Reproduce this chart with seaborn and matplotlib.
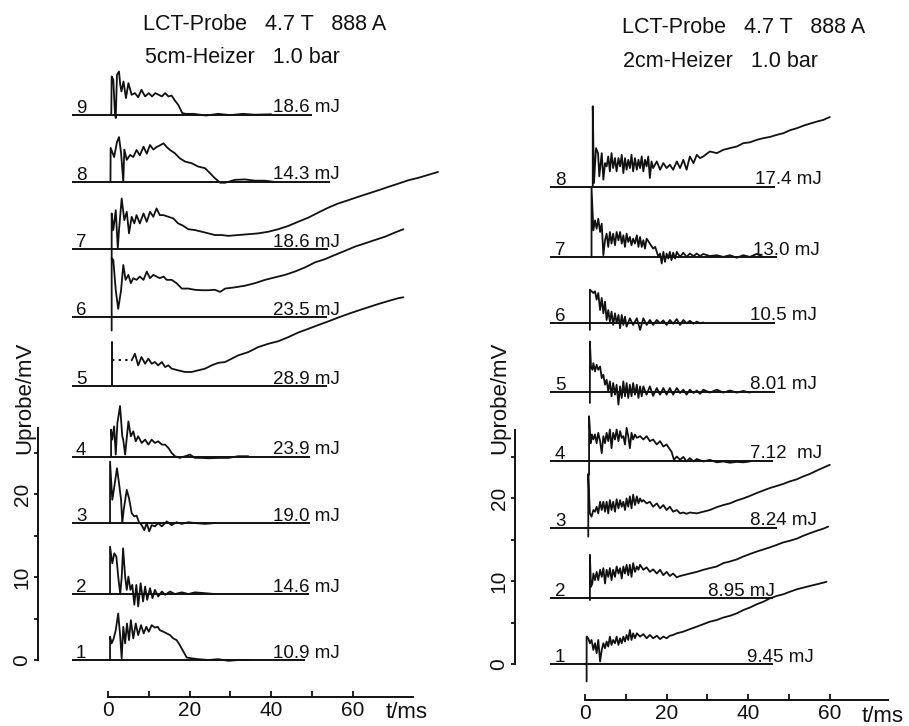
import matplotlib
matplotlib.use("Agg")
import matplotlib.pyplot as plt
import numpy as np
import seaborn as sns

# ---------------------------------------------------------------- data
# time axis in ms, probe voltage in mV above each trace's own zero line

# 5 cm heater, traces 1..9
L1_t = [0.5, 0.5, 0.9, 1.4, 1.9, 2.5, 3.0, 3.35, 3.75, 4.2, 4.65, 5.15, 5.6, 6.2, 6.8, 7.4, 8.1, 8.75, 9.4, 10.0,
        10.7, 11.5, 12.2, 12.7, 13.6, 14.4, 15.2, 16.0, 16.8, 17.6, 18.5, 19.3, 20.5, 22.1, 24.6, 27.0, 29.5, 31.9, 34.4]
L1_v = [0, 2.8, 2.0, 2.6, 3.6, 5.6, 2.8, 0.2, 4.0, 2.0, 4.4, 2.4, 4.8, 2.6, 4.4, 3.0, 4.2, 3.2, 4.0, 3.4,
        4.2, 3.9, 4.0, 3.6, 3.4, 3.2, 3.0, 2.6, 2.4, 1.8, 1.0, 0.3, 0.2, 0.1, 0.0, 0.1, -0.1, 0.0, 0.0]

L2_t = [0.5, 0.5, 1.05, 1.55, 2.05, 2.5, 3.0, 3.35, 3.7, 4.2, 4.6, 5.0, 5.5, 5.95, 6.45, 6.95, 7.4, 8.0, 8.6, 9.1,
        9.6, 10.3, 10.9, 11.5, 12.3, 13.2, 14.0, 15.2, 16.4, 18.1, 19.7, 21.3, 23.8, 26.2]
L2_v = [0, 5.7, 3.7, 4.9, 4.5, 2.1, 0.0, 2.0, 5.5, 2.1, 0.5, 2.1, 0.5, 1.1, -1.3, 1.1, -1.5, 1.3, -0.9, 0.9,
        -0.7, 0.7, -0.5, 0.5, -0.3, 0.3, -0.1, 0.3, 0.0, 0.2, 0.0, 0.2, 0.1, 0.0]

L3_t = [0.5, 0.5, 1.05, 1.55, 2.2, 2.7, 3.2, 3.5, 3.85, 4.6, 5.15, 5.8, 6.45, 7.0, 7.6, 8.25, 8.9, 9.5, 10.1, 10.7,
        11.5, 12.3, 13.2, 14.4, 15.6, 16.8, 18.1, 19.7, 21.3, 23.8, 26.2]
L3_v = [0, 7.4, 2.8, 4.4, 6.6, 4.8, 2.8, 0.0, 1.6, 4.0, 3.0, 1.2, 0.8, 0.9, 0.1, -0.25, -0.85, 0.0, -1.0, -0.25,
        -0.4, 0.0, -0.4, 0.2, -0.25, 0.1, -0.1, 0.1, 0.0, -0.1, 0.0]

L4_t = [0.75, 0.75, 1.05, 1.5, 1.9, 2.3, 2.95, 3.5, 3.75, 4.2, 5.0, 5.6, 6.2, 6.8, 7.4, 8.25, 9.1, 9.9, 10.7, 11.5,
        12.3, 13.2, 14.0, 14.8, 15.6, 16.4, 17.6, 18.9, 20.1, 21.3, 23.0, 24.6, 27.0, 29.5, 31.9, 34.4]
L4_v = [0, 3.25, 2.05, 3.65, 0.25, 4.05, 6.1, 2.45, 2.0, 0.25, 4.25, 2.45, 3.05, 1.85, 2.45, 1.65, 2.05, 1.45, 2.05, 1.65,
        1.85, 1.45, 1.45, 1.05, 0.45, 0.05, -0.15, 0.05, 0.25, -0.15, -0.15, -0.2, -0.15, -0.15, 0.05, 0.05]

L5_t = [0.9, 0.9, 0.9, 5.8, 6.6, 7.4, 8.2, 9.1, 9.9, 10.7, 11.5, 12.3, 13.2, 14.0, 14.8, 15.6, 17.2, 18.9, 20.5, 22.1,
        23.8, 25.4, 27.0, 28.7, 30.3, 31.9, 34.4, 36.8, 39.3, 41.7, 44.2, 46.6, 49.1, 51.5, 54.0, 56.4, 58.9, 61.3,
        63.8, 66.3, 68.7, 71.2, 72.4]
L5_v = [0, 5.3, 3.1, 3.1, 3.9, 2.5, 3.5, 2.7, 3.3, 2.7, 2.9, 2.5, 2.9, 2.3, 2.5, 2.1, 1.9, 1.7, 1.7, 1.9,
        2.1, 2.5, 2.8, 2.9, 3.3, 3.7, 4.1, 4.7, 5.1, 5.4, 5.9, 6.45, 6.9, 7.35, 7.8, 8.25, 8.7, 9.1,
        9.5, 9.9, 10.25, 10.6, 10.7]

L6_t = [0.9, 0.9, 1.3, 1.9, 2.5, 3.2, 3.75, 4.3, 5.0, 5.6, 6.2, 7.0, 7.8, 8.7, 9.5, 10.3, 11.1, 11.9, 12.7, 13.6,
        14.4, 15.6, 16.8, 18.1, 19.7, 21.3, 23.0, 24.6, 26.2, 27.5, 28.7, 31.1, 33.6, 36.0, 38.5, 40.9, 43.4, 45.8,
        48.3, 50.7, 53.2, 55.6, 58.1, 60.5, 63.0, 65.4, 67.9, 70.3, 72.4]
L6_v = [-1.6, 7.1, 6.9, 3.25, 1.0, 3.25, 6.3, 4.5, 5.1, 4.1, 4.7, 4.5, 4.9, 4.5, 5.5, 4.7, 5.1, 4.9, 4.7, 4.9,
        4.5, 4.5, 4.1, 3.45, 3.45, 3.3, 3.25, 3.25, 3.3, 3.05, 3.45, 3.6, 3.8, 4.1, 4.5, 4.8, 5.1, 5.5,
        6.0, 6.6, 7.0, 7.5, 8.0, 8.5, 8.9, 9.3, 9.7, 10.2, 10.6]

L7_t = [0.9, 0.9, 1.3, 1.9, 2.4, 2.7, 3.35, 4.0, 4.6, 5.15, 5.8, 6.45, 7.0, 7.8, 8.7, 9.5, 10.3, 11.1, 11.9, 12.7,
        13.6, 14.8, 16.0, 17.2, 18.5, 19.7, 21.3, 23.0, 24.6, 26.2, 27.9, 29.5, 31.9, 34.4, 36.8, 39.3, 41.7, 44.2,
        46.6, 49.1, 51.5, 54.0, 56.4, 58.9, 61.3, 63.8, 66.3, 68.7, 71.2, 73.6, 76.1, 80.9]
L7_v = [-1.2, 4.3, 2.3, 4.7, 0.1, 2.3, 6.1, 3.5, 4.5, 1.9, 3.9, 3.1, 4.1, 3.1, 4.3, 3.3, 4.5, 3.9, 4.9, 4.1,
        4.1, 3.9, 3.7, 3.1, 2.8, 2.4, 2.3, 2.1, 1.9, 1.7, 1.7, 1.6, 1.7, 1.8, 1.9, 2.1, 2.4, 2.8,
        3.3, 3.8, 4.4, 5.0, 5.5, 5.9, 6.3, 6.7, 7.1, 7.5, 7.9, 8.3, 8.6, 9.3]

L8_t = [0.6, 0.65, 1.5, 2.2, 2.7, 3.2, 3.75, 4.0, 4.6, 5.4, 6.2, 7.0, 7.8, 8.7, 9.5, 10.3, 11.1, 11.9, 12.7, 13.6,
        14.4, 15.2, 16.4, 17.6, 18.9, 20.5, 22.1, 23.8, 25.0, 26.2, 27.5, 28.7, 31.1, 33.6, 36.0, 38.5, 40.9]
L8_v = [0, 4.1, 3.0, 4.8, 5.4, 3.5, 0.0, 3.9, 2.65, 3.25, 3.0, 3.85, 3.2, 4.25, 3.4, 4.45, 3.9, 4.2, 4.4, 4.65,
        4.2, 3.85, 3.45, 2.85, 2.45, 2.25, 1.85, 1.65, 1.05, 0.45, -0.1, -0.1, 0.25, 0.3, 0.15, 0.15, 0.0]

L9_t = [0.8, 0.9, 1.3, 1.7, 1.9, 2.2, 2.7, 3.0, 3.3, 3.8, 4.4, 5.0, 5.8, 6.6, 7.4, 8.2, 9.1, 10.0, 10.8, 11.6,
        12.4, 13.2, 14.0, 14.8, 15.6, 16.4, 17.2, 18.2, 19.0, 21.0, 24.0, 27.0, 30.0, 33.0, 36.0, 40.0]
L9_v = [0, 4.6, 4.2, 0.2, -0.4, 4.8, 5.2, 3.6, 2.8, 4.0, 2.0, 3.8, 2.4, 2.6, 2.1, 3.0, 2.2, 2.6, 2.2, 2.6,
        2.4, 2.2, 2.6, 2.2, 2.3, 1.7, 1.2, 0.2, 0.1, 0.1, -0.1, 0.1, -0.05, 0.1, 0.0, 0.05]

# 2 cm heater, traces 1..8
R1_t = [0.4, 0.4, 0.8, 1.2, 1.6, 2.05, 2.45, 2.85, 3.25, 3.7, 4.1, 4.5, 4.9, 5.3, 5.7, 6.1, 6.5, 6.9, 7.35, 7.75,
        8.2, 8.6, 9.0, 9.4, 9.8, 10.2, 10.6, 11.0, 11.4, 11.8, 12.25, 12.7, 13.5, 14.3, 15.1, 15.9, 16.7, 17.6,
        18.4, 19.2, 20.0, 20.8, 21.6, 22.5, 24.1, 25.7, 27.4, 29.0, 30.6, 32.3, 33.9, 35.5, 37.2, 38.8, 40.4,
        42.1, 43.7, 45.3, 47.0, 48.6, 50.2, 51.9, 53.5, 55.1, 56.8, 59.2]
R1_v = [-2.1, 3.3, 3.1, 2.5, 2.9, 1.7, 2.5, 1.3, 2.9, 0.3, 1.7, 2.5, 1.9, 2.7, 2.1, 3.3, 2.3, 2.9, 2.5, 3.3,
        2.3, 3.1, 2.5, 3.3, 2.7, 3.5, 2.9, 4.1, 2.9, 3.7, 3.1, 3.7, 3.3, 3.6, 3.1, 3.5, 3.1, 3.4,
        3.0, 3.3, 3.1, 3.4, 3.5, 3.7, 3.9, 4.2, 4.5, 4.8, 5.1, 5.3, 5.6, 5.8, 6.1, 6.5, 6.8,
        7.2, 7.5, 7.9, 8.2, 8.4, 8.7, 9.0, 9.2, 9.4, 9.6, 9.9]

R2_t = [1.2, 1.2, 1.47, 1.8, 2.05, 2.45, 2.85, 3.25, 3.7, 4.1, 4.5, 4.9, 5.3, 5.7, 6.1, 6.5, 6.9, 7.35, 7.75, 8.2,
        8.6, 9.0, 9.4, 9.8, 10.2, 10.6, 11.0, 11.4, 11.8, 12.25, 12.7, 13.1, 13.5, 14.3, 15.1, 15.9, 16.7, 17.6,
        18.4, 19.2, 20.0, 20.8, 21.6, 22.5, 23.3, 24.1, 25.7, 27.4, 29.0, 30.6, 32.3, 33.9, 35.5, 37.2, 38.8,
        40.4, 42.1, 43.7, 45.3, 47.0, 48.6, 50.2, 51.9, 53.5, 55.1, 56.8, 58.4, 59.6]
R2_v = [-0.25, 5.2, 1.35, 1.75, 2.95, 2.15, 3.15, 2.15, 3.4, 2.55, 3.6, 1.75, 3.4, 2.55, 3.6, 2.15, 3.4, 2.55, 3.8, 2.95,
        3.6, 2.35, 3.8, 2.95, 4.0, 2.75, 4.0, 2.55, 4.2, 3.15, 3.8, 3.4, 4.0, 3.4, 3.7, 3.15, 3.45, 2.95,
        3.4, 2.75, 3.15, 2.65, 2.95, 2.5, 2.65, 2.75, 2.95, 3.15, 3.4, 3.6, 3.8, 4.2, 4.4, 4.65, 5.0,
        5.3, 5.6, 5.85, 6.1, 6.4, 6.7, 6.9, 7.15, 7.5, 7.8, 8.1, 8.35, 8.6]

R3_t = [0.8, 0.8, 1.2, 1.6, 2.05, 2.45, 2.85, 3.25, 3.7, 4.1, 4.5, 4.9, 5.3, 5.7, 6.1, 6.5, 6.9, 7.35, 7.75, 8.2,
        8.6, 9.0, 9.4, 9.8, 10.2, 10.6, 11.0, 11.4, 11.8, 12.25, 12.7, 13.1, 13.5, 13.9, 14.3, 15.1, 15.9, 16.7,
        17.6, 18.4, 19.2, 20.0, 20.8, 21.6, 22.5, 23.3, 24.1, 24.9, 25.7, 27.4, 29.0, 30.6, 32.3, 33.9, 35.5,
        37.2, 38.8, 40.4, 42.1, 43.7, 45.3, 47.0, 48.6, 50.2, 51.9, 53.5, 55.1, 56.8, 60.0]
R3_v = [-1.05, 6.5, 1.75, 1.35, 2.15, 1.95, 2.55, 1.75, 3.15, 2.15, 3.15, 1.95, 3.15, 1.75, 3.35, 2.15, 3.15, 1.95, 3.45, 2.35,
        3.35, 2.55, 3.15, 2.15, 3.55, 2.55, 3.8, 2.35, 4.0, 2.75, 3.8, 2.95, 3.55, 3.15, 3.35, 2.95, 3.15, 2.55,
        2.95, 2.35, 2.75, 2.15, 2.55, 1.95, 2.15, 1.75, 1.85, 1.7, 1.85, 1.75, 1.95, 2.15, 2.5, 2.75, 2.95,
        3.3, 3.55, 3.85, 4.2, 4.5, 4.8, 5.05, 5.3, 5.6, 5.85, 6.2, 6.5, 6.9, 7.6]

R4_t = [1.0, 1.0, 1.4, 1.7, 2.05, 2.45, 2.85, 3.25, 3.7, 4.1, 4.5, 4.9, 5.3, 5.7, 6.1, 6.5, 6.9, 7.35, 7.75, 8.2,
        8.6, 9.0, 9.4, 9.8, 10.2, 10.6, 11.0, 11.4, 11.8, 12.25, 12.7, 13.5, 14.3, 15.1, 15.9, 16.7, 17.6, 18.4,
        19.2, 20.0, 20.8, 21.2, 21.8, 22.5, 23.3, 24.1, 24.9, 25.7, 26.6, 27.4, 29.0, 30.6, 32.3, 33.9, 35.5,
        37.2, 38.8, 40.4]
R4_v = [-1.7, 5.35, 2.1, 3.15, 2.55, 3.15, 2.1, 3.35, 2.35, 0.9, 2.95, 2.1, 3.35, 2.35, 3.75, 1.5, 3.35, 2.55, 3.75, 2.35,
        3.55, 2.75, 2.95, 1.95, 3.95, 2.95, 1.5, 3.35, 2.55, 3.15, 2.75, 2.95, 2.55, 2.95, 2.35, 2.55, 1.95, 2.35,
        1.7, 1.95, 1.35, 1.1, 0.1, 0.5, 0.1, 0.45, -0.1, 0.3, -0.1, 0.2, -0.1, 0.1, -0.2, -0.1, -0.25,
        -0.15, -0.2, -0.1]

R5_t = [1.2, 1.2, 1.47, 1.8, 2.05, 2.45, 2.85, 3.25, 3.7, 4.1, 4.5, 4.9, 5.3, 5.7, 6.1, 6.5, 6.9, 7.35, 7.75, 8.2,
        8.6, 9.0, 9.4, 9.8, 10.2, 10.6, 11.0, 11.4, 11.8, 12.25, 12.7, 13.1, 13.5, 13.9, 14.3, 15.1, 15.9, 16.7,
        17.6, 18.4, 19.2, 20.0, 20.8, 21.6, 22.5, 23.3, 24.1, 24.9, 25.7, 26.6, 27.4, 28.2, 29.0, 30.6, 32.3,
        33.9, 35.5, 37.2, 38.8, 40.4]
R5_v = [-1.35, 6.05, 3.05, 2.65, 3.45, 2.45, 3.25, 2.65, 3.05, 1.65, 2.05, 0.85, 1.45, 0.05, 1.25, -0.55, 1.05, -0.35, 0.85, -1.55,
        0.65, -0.75, 1.25, -0.55, 1.05, -0.75, 0.85, -0.55, 1.05, -0.35, 0.85, -0.75, 0.65, -0.55, 0.65, -0.35, 0.65, -0.5,
        0.45, -0.35, 0.45, -0.35, 0.45, -0.35, 0.45, -0.15, 0.25, -0.35, 0.25, -0.15, 0.15, -0.25, 0.25, -0.1, 0.25,
        -0.1, 0.15, -0.1, 0.1, -0.1]

R6_t = [1.2, 1.2, 2.05, 2.45, 2.85, 3.25, 3.7, 4.1, 4.5, 4.9, 5.3, 5.7, 6.1, 6.5, 6.9, 7.35, 7.75, 8.2, 8.6, 9.0,
        9.4, 9.8, 10.2, 11.0, 11.8, 12.7, 13.5, 14.3, 15.1, 15.9, 16.7, 17.6, 18.4, 19.2, 20.0, 20.8, 21.6, 22.5,
        23.3, 24.1, 24.9, 25.7, 26.6, 27.4, 28.2, 29.0]
R6_v = [-0.85, 4.0, 3.6, 3.8, 2.8, 3.6, 1.55, 3.0, 1.15, 2.55, 0.35, 1.55, 0.15, 1.35, -0.25, 1.15, -0.05, 0.95, -0.65, 0.95,
        -0.25, 0.75, -0.45, 0.55, -0.25, 0.55, -0.85, 0.55, -0.25, 0.35, -0.25, 0.35, -0.05, 0.3, -0.25, 0.35, -0.1, 0.45,
        -0.25, 0.35, -0.05, 0.25, -0.1, 0.15, -0.05, 0.05]

R7_t = [1.6, 1.6, 2.05, 2.45, 2.85, 3.25, 3.7, 4.1, 4.5, 4.9, 5.3, 5.7, 6.1, 6.5, 6.9, 7.35, 7.75, 8.2, 8.6, 9.0,
        9.4, 9.8, 10.2, 10.6, 11.0, 11.4, 11.8, 12.25, 12.7, 13.1, 13.5, 13.9, 14.3, 14.7, 15.1, 15.9, 16.7, 17.2,
        17.6, 18.0, 18.4, 18.8, 19.2, 19.6, 20.0, 20.4, 20.8, 21.2, 21.6, 22.1, 22.5, 23.3, 24.1, 24.9, 25.7,
        26.6, 27.4, 28.2, 29.0, 30.6, 32.3, 33.9, 35.5, 37.2, 38.8, 40.4, 42.1, 43.7]
R7_v = [0, 8.4, 3.25, 4.45, 3.45, 4.65, 3.05, 4.05, 0.25, 2.05, 2.85, 1.25, 3.05, 1.65, 2.85, 1.45, 3.05, 2.05, 3.05, 1.65,
        2.65, 1.25, 2.85, 1.85, 2.45, 1.45, 2.25, 1.65, 2.65, 1.25, 2.45, 1.25, 2.05, 1.05, 2.25, 1.65, 1.05, 1.25,
        0.65, 0.05, 0.45, -0.75, 0.65, -0.55, 0.45, -0.15, 0.65, -0.35, 0.55, -0.15, 0.65, 0.05, 0.55, 0.05, 0.45,
        0.15, 0.45, 0.15, 0.4, 0.15, 0.25, 0.05, 0.25, -0.05, 0.25, 0.05, 0.4, 0.05]

R8_t = [1.9, 1.9, 2.2, 2.7, 3.2, 3.5, 4.1, 4.5, 4.9, 5.3, 5.7, 6.1, 6.5, 6.9, 7.35, 7.75, 8.2, 8.6, 9.0, 9.4,
        9.8, 10.2, 10.6, 11.0, 11.4, 11.8, 12.25, 12.7, 13.1, 13.5, 13.9, 14.3, 14.7, 15.1, 15.5, 15.9, 16.3, 16.7,
        17.6, 18.4, 19.2, 20.0, 20.8, 21.6, 22.5, 23.3, 24.1, 24.9, 25.7, 26.6, 27.4, 28.2, 29.0, 30.6, 32.3,
        33.9, 35.5, 37.2, 38.8, 40.4, 42.1, 43.7, 45.3, 47.0, 48.6, 50.2, 51.9, 53.5, 55.1, 56.8, 58.4, 60.0]
R8_v = [0, 9.7, 0.45, 4.65, 4.05, 1.25, 4.05, 0.85, 2.85, 2.45, 3.65, 1.85, 4.05, 2.25, 3.45, 1.85, 3.45, 2.45, 3.85, 1.65,
        3.45, 2.05, 3.25, 2.25, 3.85, 1.85, 3.45, 2.05, 3.25, 2.25, 3.65, 1.85, 3.25, 2.45, 3.65, 1.05, 3.05, 2.25,
        3.05, 2.05, 2.85, 2.25, 2.65, 2.05, 3.05, 2.25, 3.25, 2.05, 3.65, 2.85, 3.85, 3.45, 3.65, 4.25, 4.05,
        4.45, 4.65, 4.85, 5.25, 5.35, 5.65, 5.85, 6.0, 6.25, 6.45, 6.8, 7.05, 7.35, 7.6, 7.85, 8.05, 8.4]

LEFT_T = [L1_t, L2_t, L3_t, L4_t, L5_t, L6_t, L7_t, L8_t, L9_t]
LEFT_V = [L1_v, L2_v, L3_v, L4_v, L5_v, L6_v, L7_v, L8_v, L9_v]
RIGHT_T = [R1_t, R2_t, R3_t, R4_t, R5_t, R6_t, R7_t, R8_t]
RIGHT_V = [R1_v, R2_v, R3_v, R4_v, R5_v, R6_v, R7_v, R8_v]

LEFT_NUMBERS = ["1", "2", "3", "4", "5", "6", "7", "8", "9"]
LEFT_ENERGY = ["10.9 mJ", "14.6 mJ", "19.0 mJ", "23.9 mJ", "28.9 mJ", "23.5 mJ", "18.6 mJ", "14.3 mJ", "18.6 mJ"]
RIGHT_NUMBERS = ["1", "2", "3", "4", "5", "6", "7", "8"]
RIGHT_ENERGY = ["9.45 mJ", "8.95 mJ", "8.24 mJ", "7.12  mJ", "8.01 mJ", "10.5 mJ", "13.0 mJ", "17.4 mJ"]

LEFT_TITLE = ["LCT-Probe   4.7 T   888 A", "5cm-Heizer   1.0 bar"]
RIGHT_TITLE = ["LCT-Probe   4.7 T   888 A", "2cm-Heizer   1.0 bar"]
X_TICKS = [0, 20, 40, 60]
X_MINOR = [10, 30, 50]
Y_TICKS = [0, 10, 20]
Y_MINOR = [5, 15, 25]

# ---------------------------------------------------------------- layout
# vertical stacking of the traces (mV) and extent of each zero line (ms)
LEFT_OFFSET = [0, 7.95, 16.5, 24.5, 33.0, 41.3, 49.5, 57.6, 65.7]
RIGHT_OFFSET = [0, 7.95, 16.4, 24.5, 32.8, 41.1, 49.0, 57.5]
LEFT_ZERO_END = [48.3, 49.3, 49.5, 49.5, 53.6, 53.6, 54.0, 54.4, 50.0]
RIGHT_ZERO_END = [46.0, 46.0, 47.0, 46.0, 46.5, 46.6, 47.0, 46.6]
LEFT_LABEL_X = [40.4] * 9
RIGHT_LABEL_X = [39.6, 30.2, 40.4, 40.4, 40.4, 40.4, 41.2, 41.7]

W, H = 909, 726
PX_MS, PX_MV = 4.08, 8.3
INK = "#111111"

sns.set_theme(style="ticks", rc={"axes.facecolor": "white", "figure.facecolor": "white"})
plt.rcParams["font.family"] = ["Liberation Sans", "DejaVu Sans"]

fig = plt.figure(figsize=(W / 100, H / 100), dpi=100)


def make_axes(t0_px, v0_py, xmin, xmax):
    left = (t0_px + xmin * PX_MS) / W
    width = (xmax - xmin) * PX_MS / W
    ax = fig.add_axes([left, 0, width, 1])
    ax.set_xlim(xmin, xmax)
    ax.set_ylim(-(H - v0_py) / PX_MV, v0_py / PX_MV)
    ax.patch.set_alpha(0)
    return ax


def draw_panel(ax, ts, vs, offsets, zero_start, zero_end, numbers, energies, label_x,
               num_x, xaxis_v, xaxis_end, yaxis_t, yaxis_top, dotted_start=None):
    for i, (t, v, off) in enumerate(zip(ts, vs, offsets)):
        t = np.asarray(t, float)
        y = np.asarray(v, float) + off
        ax.hlines(off, zero_start, zero_end[i], color=INK, lw=1.4)
        if dotted_start == i:
            # this trace starts with a dotted stretch
            sns.lineplot(x=t[:2], y=y[:2], ax=ax, sort=False, estimator=None, color=INK, lw=1.4)
            sns.lineplot(x=t[2:4], y=y[2:4], ax=ax, sort=False, estimator=None, color=INK, lw=1.4,
                         linestyle=(0, (1.2, 2.2)))
            sns.lineplot(x=t[3:], y=y[3:], ax=ax, sort=False, estimator=None, color=INK, lw=1.3)
        else:
            sns.lineplot(x=t, y=y, ax=ax, sort=False, estimator=None, color=INK, lw=1.3)
        ax.text(num_x, off + 0.25, numbers[i], ha="center", va="baseline", fontsize=13.5, color=INK)
        ax.text(label_x[i], off + 0.3, energies[i], ha="left", va="baseline", fontsize=13.5, color=INK)

    for side in ("top", "right"):
        ax.spines[side].set_visible(False)
    ax.spines["left"].set_position(("data", yaxis_t))
    ax.spines["left"].set_bounds(0, yaxis_top)
    ax.spines["bottom"].set_position(("data", xaxis_v))
    ax.spines["bottom"].set_bounds(0, xaxis_end)
    for side in ("left", "bottom"):
        ax.spines[side].set_linewidth(1.4)
        ax.spines[side].set_color(INK)

    ax.set_xticks(X_TICKS)
    ax.set_xticks(X_MINOR, minor=True)
    ax.set_xticklabels([str(x) for x in X_TICKS])
    ax.set_yticks(Y_TICKS)
    ax.set_yticks(Y_MINOR, minor=True)
    ax.set_yticklabels([str(y) for y in Y_TICKS])
    ax.tick_params(axis="x", which="both", direction="in", length=4, width=1.3, color=INK,
                   pad=3, labelsize=15, labelcolor=INK, bottom=True)
    ax.tick_params(axis="y", which="both", direction="out", length=3, width=1.3, color=INK,
                   pad=1.5, labelsize=15, labelcolor=INK, left=True, labelrotation=90)
    for lab in ax.get_yticklabels():
        lab.set_va("center")
    ax.set_xlabel("")
    ax.set_ylabel("")
    ax.grid(False)


axL = make_axes(108, 660, -19, 82)
draw_panel(axL, LEFT_T, LEFT_V, LEFT_OFFSET, -8.8, LEFT_ZERO_END, LEFT_NUMBERS, LEFT_ENERGY,
           LEFT_LABEL_X, -6.6, -4.46, 74.8, -17.2, 28.0, dotted_start=4)

axR = make_axes(585, 664, -19, 79)
draw_panel(axR, RIGHT_T, RIGHT_V, RIGHT_OFFSET, -8.5, RIGHT_ZERO_END, RIGHT_NUMBERS, RIGHT_ENERGY,
           RIGHT_LABEL_X, -6.1, -4.34, 74.3, -17.2, 28.2)

# headings, axis names
for (x, y), s in zip([(143, 30), (145, 63)], LEFT_TITLE):
    fig.text(x / W, 1 - y / H, s, ha="left", va="baseline", fontsize=15.5, color=INK)
for (x, y), s in zip([(622, 33), (623, 67)], RIGHT_TITLE):
    fig.text(x / W, 1 - y / H, s, ha="left", va="baseline", fontsize=15.5, color=INK)

for x in (25, 500):
    fig.text(x / W, 1 - 398 / H, "Uprobe/mV", rotation=90, ha="center", va="center", fontsize=16, color=INK)
fig.text(386 / W, 1 - 712 / H, "t/ms", ha="left", va="center", fontsize=16, color=INK)
fig.text(862 / W, 1 - 716 / H, "t/ms", ha="left", va="center", fontsize=16, color=INK)

fig.savefig("out.png", dpi=100, facecolor="white")
